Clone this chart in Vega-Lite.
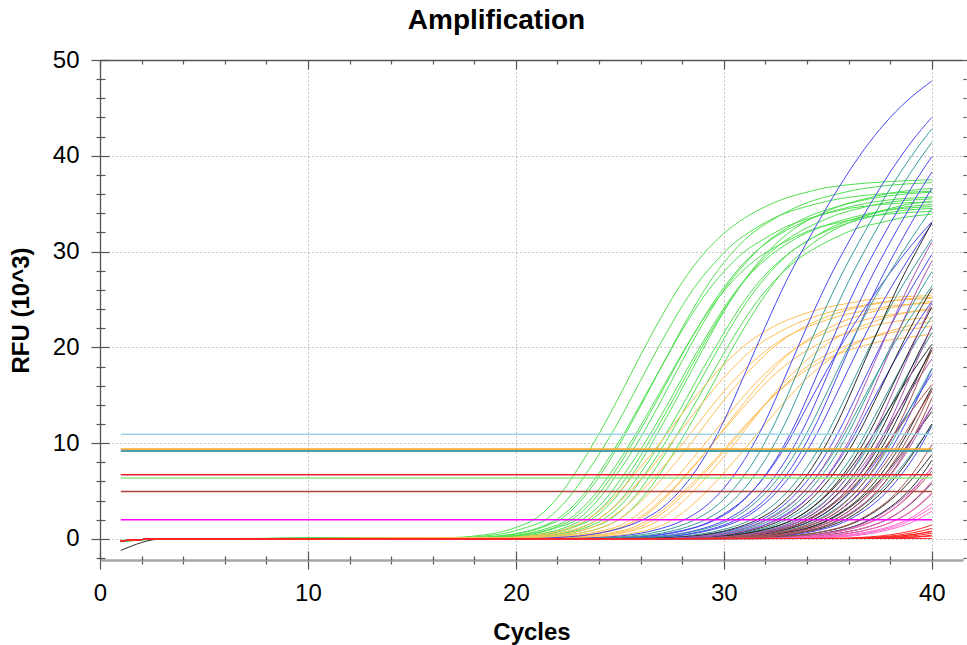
{
"$schema":"https://vega.github.io/schema/vega-lite/v6.json",
"width":863,"height":500,
"autosize":{"type":"none"},
"padding":{"left":100,"top":60,"right":4,"bottom":85},
"background":"#ffffff",
"title":{"text":"Amplification","font":"Liberation Sans","fontSize":28,"fontWeight":"bold","color":"#000000","anchor":"middle","frame":"group","dx":-35,"offset":13},
"config":{"view":{"stroke":null},"axis":{"labelFont":"Liberation Sans","labelFontSize":24,"labelColor":"#000000","titleFont":"Liberation Sans","titleFontSize":24,"titleFontWeight":"bold","titleColor":"#000000","tickColor":"#555555","tickWidth":1.2,"domainColor":"#555555","domainWidth":1.3}},
"resolve":{"axis":{"x":"independent","y":"independent"}},
"layer":[
{"data":{"values":[
{"id":"G1","grp":"green","c":[1,3,17,18,19,20,21,22,23,24,25,26,27,28,29,30,31,32,33,34,35,40],"v":[-0.2,0,0.15,0.3,0.6,1.2,2.2,4.3,7.4,11.0,15.0,19.2,23.2,26.8,29.7,31.9,33.5,34.7,35.6,36.2,36.7,37.5]},
{"id":"G2","grp":"green","c":[1,3,17.5,18.5,19.5,20.5,21.5,22.5,23.5,24.5,25.5,26.5,27.5,28.5,29.5,30.5,31.5,32.5,33.5,34.5,35.5,40],"v":[-0.25,0,0.15,0.3,0.6,1.2,2.1,4.2,7.2,10.6,14.5,18.6,22.5,26.0,28.7,30.9,32.4,33.6,34.4,35.0,35.5,36.3]},
{"id":"G3","grp":"green","c":[1,3,18,19,20,21,22,23,24,25,26,27,28,29,30,31,32,33,34,35,36,40],"v":[-0.2,0,0.14,0.28,0.56,1.1,2.1,4.0,6.9,10.3,14.1,18.0,21.8,25.2,27.9,30.0,31.4,32.6,33.4,34.0,34.5,35.2]},
{"id":"G4","grp":"green","c":[1,3,18.25,19.25,20.25,21.25,22.25,23.25,24.25,25.25,26.25,27.25,28.25,29.25,30.25,31.25,32.25,33.25,34.25,35.25,36.25,40],"v":[-0.3,0,0.15,0.3,0.6,1.2,2.2,4.3,7.3,10.9,14.9,19.0,23.0,26.6,29.5,31.7,33.2,34.4,35.3,35.9,36.4,37.2]},
{"id":"G5","grp":"green","c":[1,3,18.5,19.5,20.5,21.5,22.5,23.5,24.5,25.5,26.5,27.5,28.5,29.5,30.5,31.5,32.5,33.5,34.5,35.5,36.5,40],"v":[-0.2,0,0.14,0.27,0.55,1.1,2.0,3.9,6.7,10.0,13.7,17.5,21.2,24.5,27.1,29.1,30.5,31.6,32.5,33.0,33.5,34.2]},
{"id":"G6","grp":"green","c":[1,3,18.75,19.75,20.75,21.75,22.75,23.75,24.75,25.75,26.75,27.75,28.75,29.75,30.75,31.75,32.75,33.75,34.75,35.75,36.75,40],"v":[-0.15,0,0.14,0.29,0.57,1.1,2.1,4.1,7.0,10.5,14.3,18.3,22.1,25.5,28.3,30.4,31.9,33.0,33.9,34.5,35.0,35.7]},
{"id":"G7","grp":"green","c":[1,3,19,20,21,22,23,24,25,26,27,28,29,30,31,32,33,34,35,36,37,40],"v":[-0.2,0,0.15,0.3,0.6,1.2,2.1,4.2,7.2,10.6,14.5,18.6,22.5,26.0,28.7,30.9,32.4,33.6,34.4,35.0,35.5,36.2]},
{"id":"G8","grp":"green","c":[1,3,19.25,20.25,21.25,22.25,23.25,24.25,25.25,26.25,27.25,28.25,29.25,30.25,31.25,32.25,33.25,34.25,35.25,36.25,37.25,40],"v":[-0.25,0,0.14,0.28,0.56,1.1,2.1,4.0,6.9,10.2,13.9,17.8,21.5,24.9,27.6,29.6,31.1,32.2,33.0,33.6,34.1,34.7]},
{"id":"G9","grp":"green","c":[1,3,19.5,20.5,21.5,22.5,23.5,24.5,25.5,26.5,27.5,28.5,29.5,30.5,31.5,32.5,33.5,34.5,35.5,36.5,37.5,40],"v":[-0.2,0,0.14,0.29,0.57,1.1,2.1,4.1,7.0,10.5,14.3,18.3,22.1,25.5,28.3,30.4,31.9,33.0,33.9,34.5,35.0,35.5]},
{"id":"G10","grp":"green","c":[1,3,19.75,20.75,21.75,22.75,23.75,24.75,25.75,26.75,27.75,28.75,29.75,30.75,31.75,32.75,33.75,34.75,35.75,36.75,37.75,40],"v":[-0.2,0,0.15,0.3,0.6,1.2,2.2,4.2,7.2,10.8,14.7,18.8,22.8,26.3,29.1,31.3,32.9,34.0,34.9,35.5,36.0,36.6]},
{"id":"G11","grp":"green","c":[1,3,20,21,22,23,24,25,26,27,28,29,30,31,32,33,34,35,36,37,38,40],"v":[-0.2,0,0.14,0.28,0.56,1.1,2.1,4.0,6.9,10.2,13.9,17.8,21.5,24.9,27.6,29.6,31.1,32.2,33.0,33.6,34.1,34.5]},
{"id":"G12","grp":"green","c":[1,3,20.25,21.25,22.25,23.25,24.25,25.25,26.25,27.25,28.25,29.25,30.25,31.25,32.25,33.25,34.25,35.25,36.25,37.25,38.25,40],"v":[-0.3,0,0.14,0.28,0.56,1.1,2.1,4.0,6.9,10.3,14.1,18.0,21.8,25.2,27.9,30.0,31.4,32.6,33.4,34.0,34.5,34.9]},
{"id":"G13","grp":"green","c":[1,3,20.5,21.5,22.5,23.5,24.5,25.5,26.5,27.5,28.5,29.5,30.5,31.5,32.5,33.5,34.5,35.5,36.5,37.5,38.5,40],"v":[-0.2,0,0.14,0.27,0.55,1.1,2.0,3.9,6.7,10.0,13.7,17.5,21.2,24.5,27.1,29.1,30.5,31.6,32.5,33.0,33.5,33.9]},
{"id":"G14","grp":"green","c":[1,3,21,22,23,24,25,26,27,28,29,30,31,32,33,34,35,36,37,38,39,40],"v":[-0.2,0,0.14,0.29,0.57,1.1,2.1,4.1,7.0,10.5,14.3,18.3,22.1,25.5,28.3,30.4,31.9,33.0,33.9,34.5,35.0,35.2]},
{"id":"O1","grp":"orange","c":[1,3,19,20,21,22,23,24,25,26,27,28,29,30,31,32,33,34,35,36,37,40],"v":[-0.2,0,0.1,0.2,0.4,0.8,1.5,2.9,5.0,7.5,10.2,13.1,15.8,18.2,20.2,21.7,22.8,23.6,24.2,24.6,25.0,25.4]},
{"id":"O2","grp":"orange","c":[1,3,19.5,20.5,21.5,22.5,23.5,24.5,25.5,26.5,27.5,28.5,29.5,30.5,31.5,32.5,33.5,34.5,35.5,36.5,37.5,40],"v":[-0.2,0,0.1,0.2,0.4,0.8,1.5,2.9,5.0,7.4,10.1,12.9,15.6,18.0,20.0,21.4,22.5,23.3,23.9,24.3,24.7,25.1]},
{"id":"O3","grp":"orange","c":[1,3,20,21,22,23,24,25,26,27,28,29,30,31,32,33,34,35,36,37,38,40],"v":[-0.2,0,0.1,0.2,0.4,0.8,1.5,2.9,4.9,7.3,9.9,12.7,15.4,17.7,19.6,21.1,22.1,22.9,23.5,23.9,24.3,24.6]},
{"id":"O4","grp":"orange","c":[1,3,20.5,21.5,22.5,23.5,24.5,25.5,26.5,27.5,28.5,29.5,30.5,31.5,32.5,33.5,34.5,35.5,36.5,37.5,38.5,40],"v":[-0.2,0,0.1,0.2,0.4,0.8,1.5,2.9,5.0,7.5,10.2,13.1,15.8,18.2,20.2,21.7,22.8,23.6,24.2,24.6,25.0,25.2]},
{"id":"O5","grp":"orange","c":[1,3,21,22,23,24,25,26,27,28,29,30,31,32,33,34,35,36,37,38,39,40],"v":[-0.2,0,0.1,0.2,0.4,0.8,1.4,2.8,4.8,7.1,9.7,12.4,15.0,17.3,19.2,20.6,21.6,22.4,23.0,23.4,23.7,23.9]},
{"id":"O6","grp":"orange","c":[1,3,21.25,22.25,23.25,24.25,25.25,26.25,27.25,28.25,29.25,30.25,31.25,32.25,33.25,34.25,35.25,36.25,37.25,38.25,39.25,40],"v":[-0.2,0,0.1,0.2,0.4,0.75,1.4,2.7,4.6,6.9,9.4,12.0,14.5,16.8,18.6,20.0,21.0,21.7,22.3,22.7,23.0,23.1]},
{"id":"O7","grp":"orange","c":[1,3,21.5,22.5,23.5,24.5,25.5,26.5,27.5,28.5,29.5,30.5,31.5,32.5,33.5,34.5,35.5,36.5,37.5,38.5,39.5,40],"v":[-0.2,0,0.1,0.2,0.4,0.8,1.5,2.9,5.0,7.4,10.1,12.9,15.6,18.0,20.0,21.4,22.5,23.3,23.9,24.3,24.7,24.8]},
{"id":"O8","grp":"orange","c":[1,3,22,23,24,25,26,27,28,29,30,31,32,33,34,35,36,37,38,39,40],"v":[-0.2,0,0.1,0.2,0.4,0.7,1.3,2.6,4.5,6.7,9.1,11.6,14.1,16.2,18.0,19.3,20.3,21.0,21.5,21.9,22.2]},
{"id":"O9","grp":"orange","c":[1,3,22.5,23.5,24.5,25.5,26.5,27.5,28.5,29.5,30.5,31.5,32.5,33.5,34.5,35.5,36.5,37.5,38.5,39.5,40],"v":[-0.2,0,0.1,0.2,0.4,0.8,1.5,2.9,4.9,7.3,9.9,12.7,15.4,17.7,19.6,21.1,22.1,22.9,23.5,23.9,24.1]},
{"id":"O10","grp":"orange","c":[1,3,21.75,22.75,23.75,24.75,25.75,26.75,27.75,28.75,29.75,30.75,31.75,32.75,33.75,34.75,35.75,36.75,37.75,38.75,39.75,40],"v":[-0.2,0,0.1,0.2,0.35,0.7,1.3,2.5,4.3,6.4,8.7,11.2,13.5,15.6,17.3,18.6,19.5,20.2,20.7,21.0,21.3,21.4]},
{"id":"O11","grp":"orange","c":[1,3,23,24,25,26,27,28,29,30,31,32,33,34,35,36,37,38,39,40],"v":[-0.2,0,0.1,0.2,0.4,0.75,1.4,2.7,4.6,6.9,9.4,12.0,14.5,16.8,18.6,20.0,21.0,21.7,22.3,22.7]},
{"id":"Bl1","grp":"blue","c":[1,3,21,22,23,24,25,26,27,28,29,30,31,32,33,34,35,36,37,38,39,40],"v":[-0.2,0,0.05,0.15,0.3,0.6,1.1,1.9,3.2,5.3,8.3,12.3,17.2,22.2,26.9,31.0,34.8,38.3,41.4,44.0,46.1,47.8]},
{"id":"Bl2","grp":"blue","c":[1,3,23,24,25,26,27,28,29,30,31,32,33,34,35,36,37,38,39,40],"v":[-0.2,0,0.05,0.15,0.3,0.6,1.1,1.9,3.2,5.3,8.3,12.3,17.2,22.2,26.9,31.0,34.8,38.3,41.4,44.0]},
{"id":"Bl3","grp":"blue","c":[1,3,24.5,25.5,26.5,27.5,28.5,29.5,30.5,31.5,32.5,33.5,34.5,35.5,36.5,37.5,38.5,39.5,40],"v":[-0.2,0,0.05,0.15,0.3,0.6,1.1,1.9,3.2,5.3,8.3,12.3,17.2,22.2,26.9,31.0,34.8,38.3,39.9]},
{"id":"Bl4","grp":"blue","c":[1,3,25,26,27,28,29,30,31,32,33,34,35,36,37,38,39,40],"v":[-0.2,0,0.05,0.15,0.3,0.6,1.1,1.9,3.2,5.3,8.3,12.3,17.2,22.2,26.9,31.0,34.8,38.3]},
{"id":"Bl5","grp":"blue","c":[1,3,25.5,26.5,27.5,28.5,29.5,30.5,31.5,32.5,33.5,34.5,35.5,36.5,37.5,38.5,39.5,40],"v":[-0.2,0,0.05,0.15,0.3,0.6,1.1,1.9,3.2,5.3,8.3,12.3,17.2,22.2,26.9,31.0,34.8,36.6]},
{"id":"Bl6","grp":"blue","c":[1,3,25.5,26.5,27.5,28.5,29.5,30.5,31.5,32.5,33.5,34.5,35.5,36.5,37.5,38.5,39.5,40],"v":[-0.2,0,0.05,0.14,0.27,0.54,1.0,1.7,2.9,4.8,7.5,11.1,15.5,20.0,24.2,27.9,31.3,32.9]},
{"id":"Bl7","grp":"blue","c":[1,3,24,25,26,27,28,29,30,31,32,33,34,35,36,37,38,39,40],"v":[-0.2,0,0.04,0.12,0.24,0.48,0.88,1.5,2.6,4.2,6.6,9.8,13.8,17.8,21.5,24.8,27.8,30.6,33.1]},
{"id":"Bl8","grp":"blue","c":[1,3,26.5,27.5,28.5,29.5,30.5,31.5,32.5,33.5,34.5,35.5,36.5,37.5,38.5,39.5,40],"v":[-0.2,0,0.05,0.14,0.27,0.54,1.0,1.7,2.9,4.8,7.5,11.1,15.5,20.0,24.2,27.9,29.7]},
{"id":"Bl9","grp":"blue","c":[1,3,27,28,29,30,31,32,33,34,35,36,37,38,39,40],"v":[-0.2,0,0.04,0.12,0.24,0.48,0.88,1.5,2.6,4.2,6.6,9.8,13.8,17.8,21.5,24.8]},
{"id":"Bl10","grp":"blue","c":[1,3,28.5,29.5,30.5,31.5,32.5,33.5,34.5,35.5,36.5,37.5,38.5,39.5,40],"v":[-0.2,0,0.04,0.1,0.21,0.42,0.77,1.3,2.2,3.7,5.8,8.6,12.0,15.5,17.2]},
{"id":"Bl11","grp":"blue","c":[1,3,29.5,30.5,31.5,32.5,33.5,34.5,35.5,36.5,37.5,38.5,39.5,40],"v":[-0.2,0,0.05,0.14,0.27,0.54,1.0,1.7,2.9,4.8,7.5,11.1,15.5,17.7]},
{"id":"Bl12","grp":"blue","c":[1,3,30.5,31.5,32.5,33.5,34.5,35.5,36.5,37.5,38.5,39.5,40],"v":[-0.2,0,0.04,0.12,0.24,0.48,0.88,1.5,2.6,4.2,6.6,9.8,11.8]},
{"id":"T1","grp":"teal","c":[1,3,23.5,24.5,25.5,26.5,27.5,28.5,29.5,30.5,31.5,32.5,33.5,34.5,35.5,36.5,37.5,38.5,39.5,40],"v":[-0.2,0,0.05,0.15,0.3,0.6,1.1,1.9,3.2,5.3,8.3,12.3,17.2,22.2,26.9,31.0,34.8,38.3,41.4,42.8]},
{"id":"T2","grp":"teal","c":[1,3,24,25,26,27,28,29,30,31,32,33,34,35,36,37,38,39,40],"v":[-0.2,0,0.05,0.15,0.3,0.6,1.1,1.9,3.2,5.3,8.3,12.3,17.2,22.2,26.9,31.0,34.8,38.3,41.4]},
{"id":"T3","grp":"teal","c":[1,3,25,26,27,28,29,30,31,32,33,34,35,36,37,38,39,40],"v":[-0.2,0,0.05,0.14,0.27,0.54,1.0,1.7,2.9,4.8,7.5,11.1,15.5,20.0,24.2,27.9,31.3,34.5]},
{"id":"T4","grp":"teal","c":[1,3,26,27,28,29,30,31,32,33,34,35,36,37,38,39,40],"v":[-0.2,0,0.05,0.14,0.27,0.54,1.0,1.7,2.9,4.8,7.5,11.1,15.5,20.0,24.2,27.9,31.3]},
{"id":"T5","grp":"teal","c":[1,3,26.5,27.5,28.5,29.5,30.5,31.5,32.5,33.5,34.5,35.5,36.5,37.5,38.5,39.5,40],"v":[-0.2,0,0.04,0.12,0.24,0.48,0.88,1.5,2.6,4.2,6.6,9.8,13.8,17.8,21.5,24.8,26.4]},
{"id":"T6","grp":"teal","c":[1,3,27,28,29,30,31,32,33,34,35,36,37,38,39,40],"v":[-0.2,0,0.05,0.14,0.27,0.54,1.0,1.7,2.9,4.8,7.5,11.1,15.5,20.0,24.2,27.9]},
{"id":"T7","grp":"teal","c":[1,3,27.5,28.5,29.5,30.5,31.5,32.5,33.5,34.5,35.5,36.5,37.5,38.5,39.5,40],"v":[-0.2,0,0.04,0.12,0.24,0.48,0.88,1.5,2.6,4.2,6.6,9.8,13.8,17.8,21.5,23.2]},
{"id":"T8","grp":"teal","c":[1,3,28,29,30,31,32,33,34,35,36,37,38,39,40],"v":[-0.2,0,0.04,0.12,0.24,0.48,0.88,1.5,2.6,4.2,6.6,9.8,13.8,17.8,21.5]},
{"id":"T9","grp":"teal","c":[1,3,29,30,31,32,33,34,35,36,37,38,39,40],"v":[-0.2,0,0.04,0.12,0.24,0.48,0.88,1.5,2.6,4.2,6.6,9.8,13.8,17.8]},
{"id":"T10","grp":"teal","c":[1,3,29.5,30.5,31.5,32.5,33.5,34.5,35.5,36.5,37.5,38.5,39.5,40],"v":[-0.2,0,0.03,0.09,0.18,0.36,0.66,1.1,1.9,3.2,5.0,7.4,10.3,11.8]}
]},
"transform":[{"flatten":["c","v"]}],
"mark":{"type":"line","strokeWidth":1,"interpolate":"monotone","clip":true},
"encoding":{
"x":{"field":"c","type":"quantitative","scale":{"domain":[0,41.5],"nice":false,"zero":false},
"axis":{"orient":"bottom","values":[0,2,4,6,8,10,12,14,16,18,20,22,24,26,28,30,32,34,36,38,40],"tickSize":{"condition":{"test":"datum.value % 10 === 0","value":9},"value":4},"labelExpr":"datum.value % 10 === 0 ? datum.label : ''","labelPadding":12,"labelFlush":false,"labelOverlap":false,"grid":true,"gridColor":"#8c8c8c","gridDash":[1,3],"gridWidth":1,"gridOpacity":{"condition":{"test":"datum.value % 10 === 0 && datum.value > 0","value":1},"value":0},"domainColor":"#a6a6a6","domainWidth":2.5,"title":"Cycles","titlePadding":15}},
"y":{"field":"v","type":"quantitative","scale":{"domain":[-2.2,50],"nice":false,"zero":false},
"axis":{"orient":"left","values":[-2,0,2,4,6,8,10,12,14,16,18,20,22,24,26,28,30,32,34,36,38,40,42,44,46,48,50],"tickSize":{"condition":{"test":"datum.value % 10 === 0","value":9},"value":4},"labelExpr":"datum.value % 10 === 0 ? datum.label : ''","labelPadding":12,"labelFlush":false,"labelOverlap":false,"grid":true,"gridColor":"#8c8c8c","gridDash":[1,3],"gridWidth":1,"gridOpacity":{"condition":{"test":"datum.value % 10 === 0","value":1},"value":0},"title":"RFU (10^3)","titlePadding":19}},
"detail":{"field":"id"},
"color":{"field":"grp","type":"nominal","legend":null,"scale":{"domain":["green","orange","blue","teal","black","purple","brown","pink","red","f_lightblue","f_orange","f_teal","f_red","f_green","f_brown","f_magenta"],"range":["#50e050","#ffbf55","#4848f0","#3a9c9c","#2a2a2a","#a855b8","#a8524c","#ff66cc","#ff2424","#9fd4e8","#ffa726","#4d9fa6","#e8202a","#8ce88c","#b0443c","#ff00ff"]}}
}},
{"data":{"values":[
{"id":"K1","grp":"black","c":[1,3,26.5,27.5,28.5,29.5,30.5,31.5,32.5,33.5,34.5,35.5,36.5,37.5,38.5,39.5,40],"v":[-0.2,0,0.05,0.15,0.3,0.6,1.1,1.9,3.2,5.3,8.3,12.3,17.2,22.2,26.9,31.0,33.0]},
{"id":"K2","grp":"black","c":[1,3,27.5,28.5,29.5,30.5,31.5,32.5,33.5,34.5,35.5,36.5,37.5,38.5,39.5,40],"v":[-0.2,0,0.05,0.14,0.27,0.54,1.0,1.7,2.9,4.8,7.5,11.1,15.5,20.0,24.2,26.1]},
{"id":"K3","grp":"black","c":[1,3,28,29,30,31,32,33,34,35,36,37,38,39,40],"v":[-0.2,0,0.05,0.14,0.27,0.54,1.0,1.7,2.9,4.8,7.5,11.1,15.5,20.0,24.2]},
{"id":"K4","grp":"black","c":[1,3,27.5,28.5,29.5,30.5,31.5,32.5,33.5,34.5,35.5,36.5,37.5,38.5,39.5,40],"v":[-0.2,0,0.04,0.1,0.21,0.42,0.77,1.3,2.2,3.7,5.8,8.6,12.0,15.5,18.8,20.3]},
{"id":"K5","grp":"black","c":[1,3,28.5,29.5,30.5,31.5,32.5,33.5,34.5,35.5,36.5,37.5,38.5,39.5,40],"v":[-0.2,0,0.04,0.12,0.24,0.48,0.88,1.5,2.6,4.2,6.6,9.8,13.8,17.8,19.7]},
{"id":"K6","grp":"black","c":[1,3,28.5,29.5,30.5,31.5,32.5,33.5,34.5,35.5,36.5,37.5,38.5,39.5,40],"v":[-0.2,0,0.05,0.14,0.27,0.54,1.0,1.7,2.9,4.8,7.5,11.1,15.5,20.0,22.1]},
{"id":"K7","grp":"black","c":[1,3,29,30,31,32,33,34,35,36,37,38,39,40],"v":[-0.2,0,0.05,0.14,0.27,0.54,1.0,1.7,2.9,4.8,7.5,11.1,15.5,20.0]},
{"id":"K8","grp":"black","c":[1,3,29,30,31,32,33,34,35,36,37,38,39,40],"v":[-0.2,0,0.03,0.09,0.18,0.36,0.66,1.1,1.9,3.2,5.0,7.4,10.3,13.3]},
{"id":"K9","grp":"black","c":[1,3,29.5,30.5,31.5,32.5,33.5,34.5,35.5,36.5,37.5,38.5,39.5,40],"v":[-0.2,0,0.04,0.12,0.24,0.48,0.88,1.5,2.6,4.2,6.6,9.8,13.8,15.8]},
{"id":"K10","grp":"black","c":[1,3,30,31,32,33,34,35,36,37,38,39,40],"v":[-0.2,0,0.04,0.1,0.21,0.42,0.77,1.3,2.2,3.7,5.8,8.6,12.0]},
{"id":"K11","grp":"black","c":[1,3,30.5,31.5,32.5,33.5,34.5,35.5,36.5,37.5,38.5,39.5,40],"v":[-0.2,0,0.03,0.09,0.18,0.36,0.66,1.1,1.9,3.2,5.0,7.4,8.8]},
{"id":"K12","grp":"black","c":[1,3,31.5,32.5,33.5,34.5,35.5,36.5,37.5,38.5,39.5,40],"v":[-0.2,0,0.04,0.12,0.24,0.48,0.88,1.5,2.6,4.2,6.6,8.2]},
{"id":"K13","grp":"black","c":[1,3,32,33,34,35,36,37,38,39,40],"v":[-1.2,0,0.04,0.1,0.21,0.42,0.77,1.3,2.2,3.7,5.8]},
{"id":"P1","grp":"purple","c":[1,3,27,28,29,30,31,32,33,34,35,36,37,38,39,40],"v":[-0.2,0,0.05,0.15,0.3,0.6,1.1,1.9,3.2,5.3,8.3,12.3,17.2,22.2,26.9,31.0]},
{"id":"P2","grp":"purple","c":[1,3,27.5,28.5,29.5,30.5,31.5,32.5,33.5,34.5,35.5,36.5,37.5,38.5,39.5,40],"v":[-0.2,0,0.05,0.15,0.3,0.6,1.1,1.9,3.2,5.3,8.3,12.3,17.2,22.2,26.9,29.0]},
{"id":"P3","grp":"purple","c":[1,3,28,29,30,31,32,33,34,35,36,37,38,39,40],"v":[-0.2,0,0.04,0.1,0.21,0.42,0.77,1.3,2.2,3.7,5.8,8.6,12.0,15.5,18.8]},
{"id":"P4","grp":"purple","c":[1,3,28.5,29.5,30.5,31.5,32.5,33.5,34.5,35.5,36.5,37.5,38.5,39.5,40],"v":[-0.2,0,0.05,0.15,0.3,0.6,1.1,1.9,3.2,5.3,8.3,12.3,17.2,22.2,24.6]},
{"id":"P5","grp":"purple","c":[1,3,29,30,31,32,33,34,35,36,37,38,39,40],"v":[-0.2,0,0.05,0.15,0.3,0.6,1.1,1.9,3.2,5.3,8.3,12.3,17.2,22.2]},
{"id":"P6","grp":"purple","c":[1,3,29.5,30.5,31.5,32.5,33.5,34.5,35.5,36.5,37.5,38.5,39.5,40],"v":[-0.2,0,0.04,0.1,0.21,0.42,0.77,1.3,2.2,3.7,5.8,8.6,12.0,13.8]},
{"id":"P7","grp":"purple","c":[1,3,30,31,32,33,34,35,36,37,38,39,40],"v":[-0.2,0,0.04,0.12,0.24,0.48,0.88,1.5,2.6,4.2,6.6,9.8,13.8]},
{"id":"P8","grp":"purple","c":[1,3,31,32,33,34,35,36,37,38,39,40],"v":[-0.2,0,0.03,0.09,0.18,0.36,0.66,1.1,1.9,3.2,5.0,7.4]},
{"id":"R1","grp":"brown","c":[1,3,28,29,30,31,32,33,34,35,36,37,38,39,40],"v":[-0.2,0,0.03,0.09,0.18,0.36,0.66,1.1,1.9,3.2,5.0,7.4,10.3,13.3,16.1]},
{"id":"R2","grp":"brown","c":[1,3,29,30,31,32,33,34,35,36,37,38,39,40],"v":[-0.2,0,0.04,0.1,0.21,0.42,0.77,1.3,2.2,3.7,5.8,8.6,12.0,15.5]},
{"id":"R3","grp":"brown","c":[1,3,29.5,30.5,31.5,32.5,33.5,34.5,35.5,36.5,37.5,38.5,39.5,40],"v":[-0.2,0,0.05,0.15,0.3,0.6,1.1,1.9,3.2,5.3,8.3,12.3,17.2,19.7]},
{"id":"R4","grp":"brown","c":[1,3,30,31,32,33,34,35,36,37,38,39,40],"v":[-0.2,0,0.05,0.14,0.27,0.54,1.0,1.7,2.9,4.8,7.5,11.1,15.5]},
{"id":"R5","grp":"brown","c":[1,3,30.5,31.5,32.5,33.5,34.5,35.5,36.5,37.5,38.5,39.5,40],"v":[-0.2,0,0.05,0.15,0.3,0.6,1.1,1.9,3.2,5.3,8.3,12.3,14.7]},
{"id":"R6","grp":"brown","c":[1,3,31,32,33,34,35,36,37,38,39,40],"v":[-0.2,0,0.04,0.12,0.24,0.48,0.88,1.5,2.6,4.2,6.6,9.8]},
{"id":"R7","grp":"brown","c":[1,3,31.5,32.5,33.5,34.5,35.5,36.5,37.5,38.5,39.5,40],"v":[-0.2,0,0.04,0.1,0.21,0.42,0.77,1.3,2.2,3.7,5.8,7.1]},
{"id":"R8","grp":"brown","c":[1,3,32.5,33.5,34.5,35.5,36.5,37.5,38.5,39.5,40],"v":[-0.2,0,0.04,0.1,0.21,0.42,0.77,1.3,2.2,3.7,4.7]},
{"id":"Pk1","grp":"pink","c":[1,3,32,33,34,35,36,37,38,39,40],"v":[-0.2,0,0.05,0.14,0.27,0.54,1.0,1.7,2.9,4.8,7.5]},
{"id":"Pk2","grp":"pink","c":[1,3,32.5,33.5,34.5,35.5,36.5,37.5,38.5,39.5,40],"v":[-0.2,0,0.05,0.14,0.27,0.54,1.0,1.7,2.9,4.8,6.0]},
{"id":"Pk3","grp":"pink","c":[1,3,33,34,35,36,37,38,39,40],"v":[-0.2,0,0.05,0.14,0.27,0.54,1.0,1.7,2.9,4.8]},
{"id":"Pk4","grp":"pink","c":[1,3,33,34,35,36,37,38,39,40],"v":[-0.2,0,0.04,0.1,0.21,0.42,0.77,1.3,2.2,3.7]},
{"id":"Pk5","grp":"pink","c":[1,3,33.5,34.5,35.5,36.5,37.5,38.5,39.5,40],"v":[-0.2,0,0.04,0.12,0.24,0.48,0.88,1.5,2.6,3.3]},
{"id":"Pk6","grp":"pink","c":[1,3,34,35,36,37,38,39,40],"v":[-0.2,0,0.05,0.14,0.27,0.54,1.0,1.7,2.9]},
{"id":"Rd1","grp":"red","c":[1,3,35.5,36.5,37.5,38.5,39.5,40],"v":[-0.2,0,0.05,0.15,0.3,0.6,1.1,1.45]},
{"id":"Rd2","grp":"red","c":[1,3,36,37,38,39,40],"v":[-0.2,0,0.05,0.15,0.3,0.6,1.1]},
{"id":"Rd3","grp":"red","c":[1,3,36,37,38,39,40],"v":[-0.2,0,0.04,0.1,0.21,0.42,0.77]},
{"id":"Rd4","grp":"red","c":[1,3,36.5,37.5,38.5,39.5,40],"v":[-0.2,0,0.05,0.15,0.3,0.6,0.82]},
{"id":"Rd5","grp":"red","c":[1,3,37,38,39,40],"v":[-0.2,0,0.05,0.15,0.3,0.6]},
{"id":"Rd6","grp":"red","c":[1,3,37.5,38.5,39.5,40],"v":[-0.2,0,0.05,0.14,0.27,0.39]},
{"id":"Rd7","grp":"red","c":[1,3,38,39,40],"v":[-0.2,0,0.05,0.15,0.3]},
{"id":"Rd8","grp":"red","c":[1,3,40],"v":[-0.2,0,0.05]}
]},
"transform":[{"flatten":["c","v"]}],
"mark":{"type":"line","strokeWidth":1,"interpolate":"monotone","clip":true},
"encoding":{
"x":{"field":"c","type":"quantitative","scale":{"domain":[0,41.5],"nice":false,"zero":false},
"axis":{"orient":"bottom","values":[0,2,4,6,8,10,12,14,16,18,20,22,24,26,28,30,32,34,36,38,40],"tickSize":{"condition":{"test":"datum.value % 10 === 0","value":-9},"value":-4},"labels":false,"grid":false,"domain":false,"title":null}},
"y":{"field":"v","type":"quantitative","scale":{"domain":[-2.2,50],"nice":false,"zero":false},
"axis":{"orient":"left","values":[-2,0,2,4,6,8,10,12,14,16,18,20,22,24,26,28,30,32,34,36,38,40,42,44,46,48,50],"tickSize":{"condition":{"test":"datum.value % 10 === 0","value":-9},"value":-5},"labels":false,"grid":false,"domain":false,"title":null}},
"detail":{"field":"id"},
"color":{"field":"grp","type":"nominal","legend":null,"scale":{"domain":["green","orange","blue","teal","black","purple","brown","pink","red","f_lightblue","f_orange","f_teal","f_red","f_green","f_brown","f_magenta"],"range":["#50e050","#ffbf55","#4848f0","#3a9c9c","#2a2a2a","#a855b8","#a8524c","#ff66cc","#ff2424","#9fd4e8","#ffa726","#4d9fa6","#e8202a","#8ce88c","#b0443c","#ff00ff"]}}
}},
{"data":{"values":[
{"id":"F1","grp":"f_lightblue","c":[1,40],"v":[10.94,10.94]},
{"id":"F2","grp":"f_teal","c":[1,40],"v":[9.2,9.2]},
{"id":"F3","grp":"f_orange","c":[1,40],"v":[9.38,9.38]},
{"id":"F4","grp":"f_red","c":[1,40],"v":[6.69,6.69]},
{"id":"F5","grp":"f_green","c":[1,40],"v":[6.36,6.36]},
{"id":"F6","grp":"f_brown","c":[1,40],"v":[4.94,4.94]},
{"id":"F7","grp":"f_magenta","c":[1,40],"v":[1.99,1.99]}
]},
"transform":[{"flatten":["c","v"]}],
"mark":{"type":"line","clip":true},
"encoding":{
"x":{"field":"c","type":"quantitative","scale":{"domain":[0,41.5],"nice":false,"zero":false},
"axis":{"orient":"top","values":[0,2,4,6,8,10,12,14,16,18,20,22,24,26,28,30,32,34,36,38,40],"tickSize":{"condition":{"test":"datum.value % 10 === 0","value":-9},"value":-4},"labels":false,"grid":false,"domain":true,"domainColor":"#555555","domainWidth":1.3,"title":null}},
"y":{"field":"v","type":"quantitative","scale":{"domain":[-2.2,50],"nice":false,"zero":false},
"axis":{"orient":"right","values":[-2,0,2,4,6,8,10,12,14,16,18,20,22,24,26,28,30,32,34,36,38,40,42,44,46,48,50],"tickSize":{"condition":{"test":"datum.value % 10 === 0","value":5},"value":3},"labels":false,"grid":false,"domain":false,"title":null}},
"detail":{"field":"id"},
"strokeWidth":{"condition":{"test":"datum.grp === 'f_teal'","value":2.5},"value":1.5},
"color":{"field":"grp","type":"nominal","legend":null,"scale":{"domain":["green","orange","blue","teal","black","purple","brown","pink","red","f_lightblue","f_orange","f_teal","f_red","f_green","f_brown","f_magenta"],"range":["#50e050","#ffbf55","#4848f0","#3a9c9c","#2a2a2a","#a855b8","#a8524c","#ff66cc","#ff2424","#9fd4e8","#ffa726","#4d9fa6","#e8202a","#8ce88c","#b0443c","#ff00ff"]}}
}}
]
}
